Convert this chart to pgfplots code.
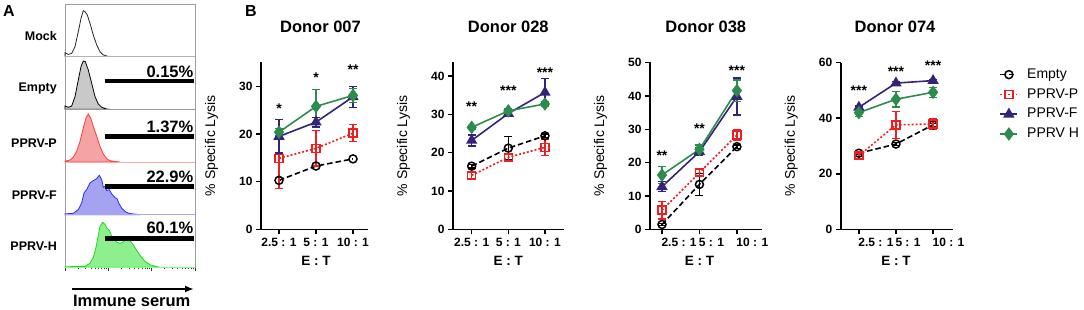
\documentclass[border=0pt]{standalone}
\usepackage{fontspec}
\setmainfont{Liberation Sans}
\usepackage{pgfplots}
\pgfplotsset{compat=1.18}
\usetikzlibrary{arrows.meta}

\definecolor{navyF}{HTML}{33247A}
\definecolor{greenH}{HTML}{2E8B4E}
\definecolor{redP}{HTML}{F01E1E}
\definecolor{histE}{HTML}{C9C9C9}
\definecolor{histP}{HTML}{F5A3A3}
\definecolor{lineP}{HTML}{FF3B3B}
\definecolor{histF}{HTML}{A3A3F2}
\definecolor{lineF}{HTML}{2B2BF5}
\definecolor{histH}{HTML}{8EEF8E}
\definecolor{lineH}{HTML}{1FD81F}

\tikzset{stars/.style={anchor=base, yshift=-7.6pt, font=\fontsize{14}{16}\selectfont\bfseries}}

\pgfplotsset{
  donor/.style={
    scale only axis, height=167pt, ymin=0,
    axis lines=left, axis line style={line width=1.6pt, -},
    tick style={line width=1.4pt, black}, major tick length=5pt, tick align=outside,
    xtick={0,1,2}, xticklabels={2.5 : 1, 5 : 1, 10 : 1},
    ticklabel style={font=\fontsize{12}{14}\selectfont\bfseries},
    /pgf/number format/assume math mode=true,
    xlabel={E : T},
    xlabel style={at={(axis cs:1,0)}, anchor=center, yshift=-31.5pt, font=\fontsize{13.5}{15}\selectfont\bfseries},
    ylabel={\% Specific Lysis},
    ylabel style={font=\fontsize{14}{16}\selectfont, anchor=center},
    title style={font=\fontsize{16.5}{18}\selectfont\bfseries, anchor=center, yshift=30pt},
    clip=false, minor tick num=0,
    every axis plot/.append style={line width=1.6pt},
    error bars/y dir=both, error bars/y explicit,
    error bars/error bar style={solid, line width=1.4pt},
    error bars/error mark options={rotate=90, mark size=4pt, line width=1.4pt},
  },
  sE/.style={black, dash pattern=on 5.5pt off 3pt, mark=o, mark size=4pt, mark options={solid, line width=1.5pt}},
  sP/.style={redP, dash pattern=on 2pt off 2pt, mark=square, mark size=4pt, mark options={solid, line width=1.5pt}},
  sF/.style={navyF, solid, mark=triangle*, mark size=5pt, mark options={solid}},
  sH/.style={greenH, solid, mark=diamond*, mark size=5.5pt, mark options={solid}},
}

\begin{document}
\begin{tikzpicture}
\useasboundingbox (0,0) rectangle (1084pt,310pt);

% ---------------- Panel A ----------------
\begin{axis}[at={(65pt,42.7pt)}, anchor=south west, scale only axis,
  width=130pt, height=263.3pt, xmin=65, xmax=195, ymin=0, ymax=263.3, clip=false,
  axis line style={draw=gray!75, line width=0.7pt},
  xtick={65,108.33,151.67,195}, xticklabels={},
  minor xtick={78.04,85.68,91.09,95.29,98.72,101.62,104.13,106.35,121.37,129.01,134.42,138.62,142.05,144.95,147.46,149.68,164.71,172.35,177.76,181.96,185.39,188.29,190.80,193.02},
  ytick=\empty, xtick pos=bottom, tick align=outside,
  major tick length=3.5pt, minor tick length=2pt, tick style={black!80, line width=0.6pt}]
% Mock
\addplot[black!85, line width=0.8pt] coordinates {(65,210.6) (65,214.6) (68.3,212.9) (71.7,213.9) (75,220.6) (78.3,235.6) (81,248.9) (83.3,256.6) (85,255.6) (87.3,252.3) (90,243.9) (93.3,232.3) (96.7,222.3) (100,215.6) (103.3,212.3) (108.3,210.9) (110,210.6)};
% Empty
\addplot[draw=black, fill=histE, line width=0.8pt] coordinates {(65,157.95) (65,161.3) (68.3,160) (71.7,161.3) (75,170.7) (78.3,187.3) (81,200.7) (83.3,206.3) (85.3,205.7) (88.3,197.3) (91.7,184) (95,170.7) (98.3,163.3) (101.7,160) (106.7,158.3) (110,157.95)} -- cycle;
% PPRV-P
\addplot[draw=lineP, fill=histP, line width=0.8pt] coordinates {(65,105.3) (65,106) (70,107.3) (73.3,110) (76.7,116) (80,126) (83.3,139.3) (86,149.3) (88.3,153.3) (90.7,149.3) (93.3,141) (96.7,131) (100,121) (103.3,113.3) (106.7,108.6) (110,106.6) (116.7,105.6) (120,105.3)} -- cycle;
% PPRV-F
\addplot[draw=lineF, fill=histF, line width=0.8pt] coordinates {(65,52.65) (65,53.4) (73.3,54) (78.3,57.7) (81.7,64.4) (84,74.4) (86.7,77.7) (90,84.4) (93.3,86.7) (96.7,88.7) (99.3,92) (101.7,87.7) (103.3,80) (105,81) (106.7,76.7) (109.3,77.7) (111.7,73.4) (115,69.7) (117,68.7) (119,63.7) (122,58.7) (126,55.2) (130,53.7) (136.7,53) (140,52.65)} -- cycle;
% PPRV-H
\addplot[draw=lineH, fill=histH, line width=0.8pt] coordinates {(65,0) (65,0.5) (85,1) (90,4) (93.3,10) (96,20) (98.3,32) (100,41) (102.7,45) (105,43) (107,39) (109.3,37) (111.7,31) (114,28) (117,25) (120,24) (122.5,25) (125,27) (128,27) (130.5,26) (133,23) (136,18) (140,12) (145,6) (150,2.5) (156.7,0.7) (160,0)} -- cycle;
% row separators
\addplot[gray!60, line width=0.6pt] coordinates {(65,210.6) (195,210.6)};
\addplot[gray!80, line width=0.6pt] coordinates {(65,157.95) (195,157.95)};
\addplot[red!35, line width=0.6pt] coordinates {(65,105.3) (195,105.3)};
\addplot[blue!35, line width=0.6pt] coordinates {(65,52.65) (195,52.65)};
\addplot[green!50, line width=0.6pt] coordinates {(65,0) (195,0)};
% gates
\addplot[black, line width=4.5pt] coordinates {(104.5,186.3) (194,186.3)};
\addplot[black, line width=4.5pt] coordinates {(104.5,130.6) (194,130.6)};
\addplot[black, line width=4.5pt] coordinates {(104.5,80.6) (194,80.6)};
\addplot[black, line width=4.5pt] coordinates {(104.5,29) (194,29)};
\begin{scope}[every node/.style={font=\fontsize{16.5}{18}\selectfont\bfseries, anchor=base east, inner sep=0pt}]
\node at (axis cs:193.5,190) {0.15\%};
\node at (axis cs:193.5,135) {1.37\%};
\node at (axis cs:193.5,85) {22.9\%};
\node at (axis cs:193.5,33.3) {60.1\%};
\end{scope}
\begin{scope}[every node/.style={font=\fontsize{12.5}{14}\selectfont\bfseries, anchor=base east, inner sep=0pt}]
\node at (axis cs:57,226.3) {Mock};
\node at (axis cs:57,175.7) {Empty};
\node at (axis cs:57,119.7) {PPRV-P};
\node at (axis cs:57,68) {PPRV-F};
\node at (axis cs:57,16.3) {PPRV-H};
\end{scope}
\end{axis}
\draw[line width=2pt, -{Latex[length=9pt, width=7pt]}] (72pt,21pt) -- (194pt,21pt);
\node[anchor=base, inner sep=0pt, font=\fontsize{16.5}{18}\selectfont\bfseries] at (131.7pt,3pt) {Immune serum};
\node[anchor=base, inner sep=0pt, font=\fontsize{16}{18}\selectfont\bfseries] at (9pt,293.3pt) {A};
\node[anchor=base, inner sep=0pt, font=\fontsize{16}{18}\selectfont\bfseries] at (251pt,293.3pt) {B};

% ---------------- Donor 007 ----------------
\begin{axis}[donor, at={(261pt,80.5pt)}, anchor=south west, width=107pt,
  xmin=-0.486, xmax=2.405, ymax=35, ytick={0,10,20,30},
  title={Donor 007}, title style={at={(axis description cs:0.556,1)}},
  ylabel style={at={(axis description cs:-0.4626,0.5)}}]
\addplot[sE, error bars/y dir=none] coordinates {(0,10.3) (1,13.3) (2,14.8)};
\addplot[sP] coordinates {(0,14.9) +- (0,6.3) (1,17.0) +- (0,3.7) (2,20.2) +- (0,1.8)};
\addplot[sF] coordinates {(0,19.5) +- (0,3.5) (1,22.5) +- (0,1.0) (2,27.8) +- (0,2.2)};
\addplot[sH] coordinates {(0,20.4) +- (0,0.8) (1,25.8) +- (0,3.5) (2,28.1) +- (0,1.5)};
\node[stars] at (axis cs:0,26) {*};
\node[stars] at (axis cs:1,32.5) {*};
\node[stars] at (axis cs:2,34) {**};
\end{axis}

% ---------------- Donor 028 ----------------
\begin{axis}[donor, at={(453pt,80.5pt)}, anchor=south west, width=111pt,
  xmin=-0.51, xmax=2.52, ymax=43.5, ytick={0,10,20,30,40},
  title={Donor 028}, title style={at={(axis description cs:0.498,1)}},
  ylabel style={at={(axis description cs:-0.446,0.5)}}]
\addplot[sE] coordinates {(0,16.5) +- (0,0.5) (1,21.2) +- (0,3.0) (2,24.4) +- (0,0.5)};
\addplot[sP] coordinates {(0,14.1) +- (0,0.8) (1,18.8) +- (0,0.8) (2,21.4) +- (0,2.2)};
\addplot[sF] coordinates {(0,23.2) +- (0,1.4) (1,30.2) +- (0,0.5) (2,35.7) +- (0,3.7)};
\addplot[sH] coordinates {(0,26.6) +- (0,0.5) (1,30.9) +- (0,0.5) (2,32.7) +- (0,0.5)};
\node[stars] at (axis cs:0,32.8) {**};
\node[stars] at (axis cs:1,36.8) {***};
\node[stars] at (axis cs:2,41.5) {***};
\end{axis}

% ---------------- Donor 038 ----------------
\begin{axis}[donor, at={(650pt,80.5pt)}, anchor=south west, width=112pt,
  xmin=-0.32, xmax=2.67, ymax=50, ytick={0,10,20,30,40,50},
  xticklabel style={anchor=north west, xshift=-4pt},
  title={Donor 038}, title style={at={(axis description cs:0.498,1)}},
  ylabel style={at={(axis description cs:-0.442,0.5)}}]
\addplot[sE] coordinates {(0,1.5) +- (0,0.3) (1,13.5) +- (0,3.3) (2,24.8) +- (0,0.5)};
\addplot[sP] coordinates {(0,5.8) +- (0,2.6) (1,17.0) +- (0,1.0) (2,28.3) +- (0,1.5)};
\addplot[sF] coordinates {(0,12.8) +- (0,1.5) (1,23.3) +- (0,1.2) (2,39.8) +- (0,5.5)};
\addplot[sH] coordinates {(0,16.3) +- (0,2.6) (1,24.0) +- (0,1.3) (2,41.6) +- (0,3.2)};
\node[stars] at (axis cs:0,22.8) {**};
\node[stars] at (axis cs:1,31) {**};
\node[stars] at (axis cs:2,48.3) {***};
\end{axis}

% ---------------- Donor 074 ----------------
\begin{axis}[donor, at={(840.7pt,80.5pt)}, anchor=south west, width=112pt,
  xmin=-0.49, xmax=2.53, ymax=60, ytick={0,20,40,60},
  xticklabel style={anchor=north west, xshift=-4pt},
  title={Donor 074}, title style={at={(axis description cs:0.485,1)}},
  ylabel style={at={(axis description cs:-0.442,0.5)}},
  legend image code/.code={\draw[mark repeat=2,mark phase=2] plot coordinates {(0pt,0pt) (8.5pt,0pt) (17pt,0pt)}; \path (24pt,0pt);},
  legend style={at={(axis description cs:1.39,0.987)}, anchor=north west, draw=none, fill=none,
    font=\fontsize{14}{16}\selectfont, row sep=4.3pt, cells={anchor=west},
    nodes={text height=10.5pt, text depth=3pt, inner ysep=1pt}}]
\addplot[sE] coordinates {(0,27.4) +- (0,0.5) (1,30.7) +- (0,0.5) (2,37.6) +- (0,0.5)};
\addplot[sP] coordinates {(0,26.5) +- (0,1.0) (1,37.6) +- (0,4.8) (2,37.9) +- (0,2.0)};
\addplot[sF] coordinates {(0,43.9) +- (0,0.5) (1,52.6) +- (0,0.5) (2,53.5) +- (0,0.5)};
\addplot[sH] coordinates {(0,42.0) +- (0,1.5) (1,46.8) +- (0,2.8) (2,49.3) +- (0,1.8)};
\legend{Empty, PPRV-P, PPRV-F, PPRV H}
\node[stars] at (axis cs:0,51) {***};
\node[stars] at (axis cs:1,57.6) {***};
\node[stars] at (axis cs:2,60) {***};
\end{axis}
\end{tikzpicture}
\end{document}
